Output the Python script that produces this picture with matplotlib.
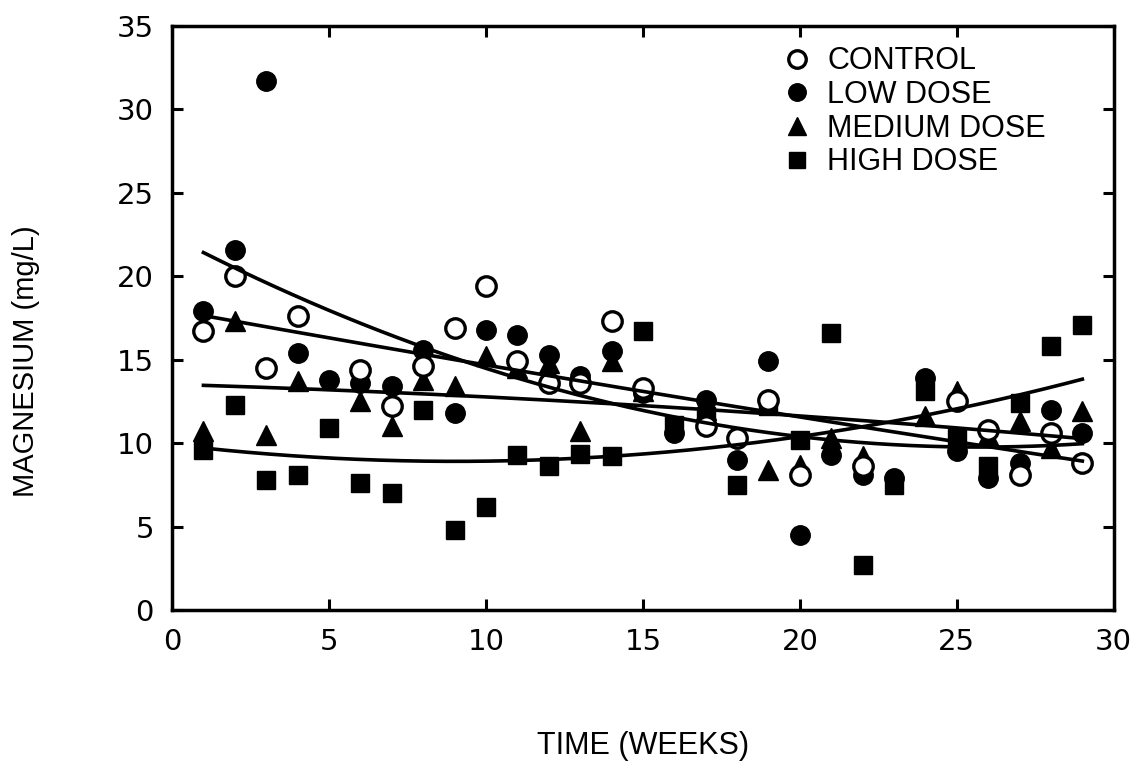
import numpy as np
import matplotlib
matplotlib.use("Agg")
import matplotlib.pyplot as plt

nan = np.nan

weeks = np.array([1, 2, 3, 4, 5, 6, 7, 8, 9, 10, 11, 12, 13, 14, 15,
                  16, 17, 18, 19, 20, 21, 22, 23, 24, 25, 26, 27, 28, 29])

# magnesium (mg/L) per group (nan = hidden / not visible)
control = np.array([16.7, 20.0, 14.5, 17.6, nan, 14.4, 12.2, 14.6, 16.9, 19.4,
                    14.9, 13.6, 13.6, 17.3, 13.3, nan, 11.0, 10.3, 12.6, 8.1,
                    nan, 8.6, nan, nan, 12.5, 10.8, 8.1, 10.6, 8.8])
low_dose = np.array([17.9, 21.6, 31.7, 15.4, 13.8, 13.6, 13.4, 15.6, 11.8, 16.8,
                     16.5, 15.3, 14.0, 15.5, 13.0, 10.6, 12.6, 9.0, 14.9, 4.5,
                     9.3, 8.1, 7.9, 13.9, 9.5, 7.9, 8.8, 12.0, 10.6])
medium_dose = np.array([10.7, 17.3, 10.5, 13.7, nan, 12.5, 11.0, 13.8, 13.4, 15.2,
                        14.5, 14.8, 10.7, 14.9, 13.1, nan, 12.0, nan, 8.4, 8.7,
                        10.3, 9.2, nan, 11.6, 13.1, 10.5, 11.3, 9.7, 11.9])
high_dose = np.array([9.6, 12.3, 7.8, 8.1, 10.9, 7.6, 7.0, 12.0, 4.8, 6.2,
                      9.3, 8.6, 9.35, 9.2, 16.7, 11.1, 11.6, 7.5, 12.2, 10.2,
                      16.6, 2.7, 7.5, 13.1, 10.3, 8.6, 12.4, 15.8, 17.1])

labels = ["CONTROL", "LOW DOSE", "MEDIUM DOSE", "HIGH DOSE"]

plt.rcParams["font.family"] = ["Liberation Sans", "DejaVu Sans"]

fig = plt.figure(figsize=(11.47, 7.64), dpi=100)
ax = fig.add_axes([0.15, 0.2016, 0.821, 0.7644])

ms = 14
groups = [
    (control, dict(marker="o", mfc="white", mec="black", mew=2.4), 5),
    (low_dose, dict(marker="o", mfc="black", mec="black"), 4),
    (medium_dose, dict(marker="^", mfc="black", mec="black", ms=ms + 1), 3),
    (high_dose, dict(marker="s", mfc="black", mec="black", ms=ms - 1), 2),
]
handles = []
for vals, style, z in groups:
    style.setdefault("ms", ms)
    h, = ax.plot(weeks, vals, ls="none", zorder=z, **style)
    handles.append(h)

# quadratic trend for each group
xs = np.linspace(weeks[0], weeks[-1], 200)
for vals, _, _ in groups:
    ok = ~np.isnan(vals)
    coef = np.polyfit(weeks[ok], vals[ok], 2)
    ax.plot(xs, np.polyval(coef, xs), color="black", lw=2.6, zorder=6)

ax.set_xlim(0, 30)
ax.set_ylim(0, 35)
ax.set_xticks(range(0, 31, 5))
ax.set_yticks(range(0, 36, 5))
ax.tick_params(direction="in", length=8, width=2.2, top=True, right=True,
               labelsize=21, pad=13)
for lab in ax.get_xticklabels() + ax.get_yticklabels():
    lab.set_family(["DejaVu Sans"])
for s in ax.spines.values():
    s.set_linewidth(2.5)

ax.set_xlabel("TIME (WEEKS)", fontsize=22, labelpad=54)
ax.set_ylabel("MAGNESIUM (mg/L)", fontsize=21)
ax.yaxis.set_label_coords(-0.14, 0.426)

ax.legend(handles, labels, loc="upper left", bbox_to_anchor=(0.626, 1.002),
          frameon=False, fontsize=22, markerscale=0.9, handlelength=0.9,
          handletextpad=0.55, labelspacing=0.12, borderpad=0.2)

fig.savefig("out.png", dpi=100)
